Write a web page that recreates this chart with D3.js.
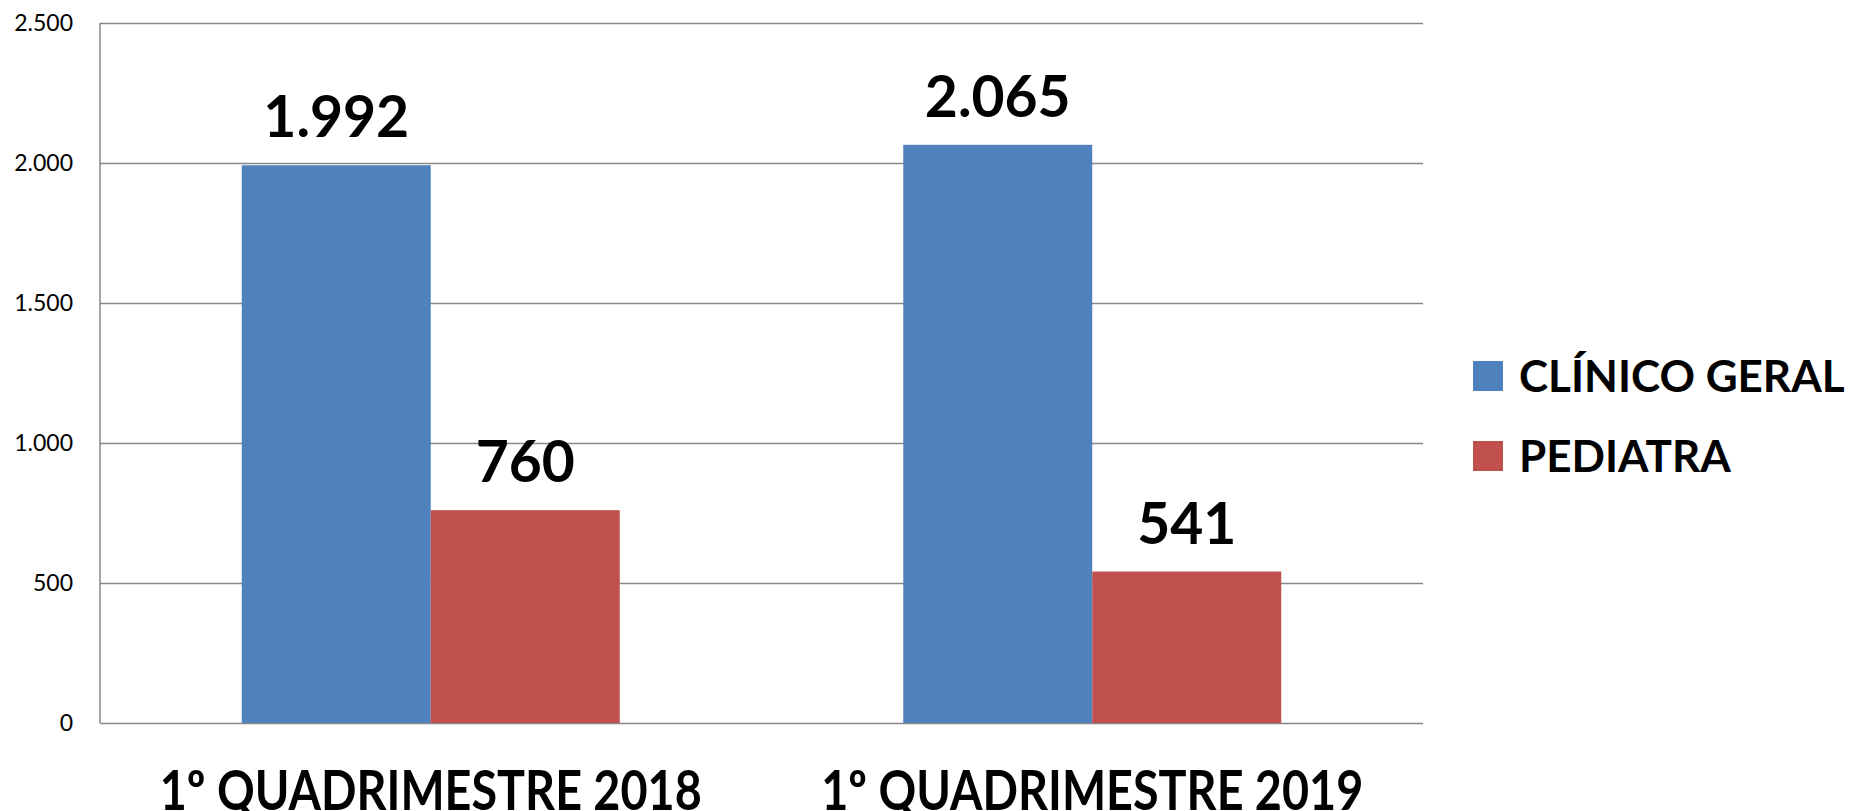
<!DOCTYPE html>
<html>
<head>
<meta charset="utf-8">
<script src="https://cdn.jsdelivr.net/npm/d3@7"></script>
<style>
  html, body { margin: 0; padding: 0; background: #fff; overflow: hidden; }
  svg { display: block; font-family: Lato, "Open Sans", sans-serif; }
</style>
</head>
<body>
<svg id="chart" width="1856" height="811"></svg>
<script>
// chart data
var categories = ["1º QUADRIMESTRE 2018", "1º QUADRIMESTRE 2019"];
var seriesNames = ["CLÍNICO GERAL", "PEDIATRA"];
var clinicoGeral = [1992, 2065];
var pediatra = [760, 541];
var yTicks = [0, 500, 1000, 1500, 2000, 2500];
var colors = ["#4F81BD", "#C0504D"];

(function () {
    var seriesValues = [clinicoGeral, pediatra];

    var svg = d3.select("#chart");
    var plotLeft = 100, plotRight = 1423, plotTop = 23, plotBottom = 723;

    var locale = d3.formatLocale({ decimal: ",", thousands: ".", grouping: [3], currency: ["", ""] });
    var fmt = locale.format(",d");

    var x = d3.scaleBand()
        .domain(categories)
        .range([plotLeft, plotRight])
        .paddingInner(0.4286)
        .paddingOuter(0.2143);

    var xs = d3.scaleBand()
        .domain(seriesNames)
        .range([0, x.bandwidth()])
        .padding(0);

    var y = d3.scaleLinear()
        .domain([0, 2500])
        .range([plotBottom, plotTop]);

    // gridlines + tick labels
    var yAxis = svg.append("g")
        .attr("transform", "translate(" + plotLeft + ",0)")
        .call(d3.axisLeft(y).tickValues(yTicks).tickSize(-(plotRight - plotLeft)).tickPadding(27).tickFormat(fmt));
    yAxis.select(".domain").remove();
    yAxis.selectAll(".tick line")
        .attr("stroke", "#888")
        .attr("stroke-width", 1.5);
    yAxis.selectAll(".tick text")
        .attr("fill", "#000")
        .style("font-size", "23px")
        .style("font-family", "Lato, sans-serif");

    // left axis line
    svg.append("line")
        .attr("x1", plotLeft).attr("x2", plotLeft)
        .attr("y1", y(2500)).attr("y2", y(0))
        .attr("stroke", "#888")
        .attr("stroke-width", 1.5);

    // bars
    var groups = svg.selectAll(".group")
        .data(categories)
      .enter().append("g")
        .attr("class", "group")
        .attr("transform", function (d) { return "translate(" + x(d) + ",0)"; });

    groups.selectAll("rect")
        .data(function (d, i) {
            return seriesNames.map(function (s, j) { return { s: s, v: seriesValues[j][i], c: colors[j] }; });
        })
      .enter().append("rect")
        .attr("x", function (d) { return xs(d.s); })
        .attr("width", xs.bandwidth())
        .attr("y", function (d) { return y(d.v); })
        .attr("height", function (d) { return y(0) - y(d.v); })
        .attr("fill", function (d) { return d.c; });

    groups.selectAll(".val")
        .data(function (d, i) {
            return seriesNames.map(function (s, j) { return { s: s, v: seriesValues[j][i] }; });
        })
      .enter().append("text")
        .attr("class", "val")
        .attr("x", function (d) { return xs(d.s) + xs.bandwidth() / 2; })
        .attr("y", function (d) { return y(d.v) - 28; })
        .attr("text-anchor", "middle")
        .style("font-size", "57px")
        .style("font-weight", "bold")
        .text(function (d) { return fmt(d.v); });

    // category labels (Calibri-like narrow width)
    svg.selectAll(".cat")
        .data(categories)
      .enter().append("text")
        .attr("class", "cat")
        .attr("x", function (d) { return x(d) + x.bandwidth() / 2; })
        .attr("y", 810)
        .attr("text-anchor", "middle")
        .attr("textLength", 542)
        .attr("lengthAdjust", "spacingAndGlyphs")
        .style("font-size", "55px")
        .style("font-weight", "bold")
        .text(function (d) { return d; });

    // legend
    var legend = svg.selectAll(".legend")
        .data(seriesNames)
      .enter().append("g")
        .attr("class", "legend")
        .attr("transform", function (d, i) { return "translate(1473," + (361 + i * 80) + ")"; });
    legend.append("rect")
        .attr("width", 30).attr("height", 30)
        .attr("fill", function (d, i) { return colors[i]; });
    legend.append("text")
        .attr("x", 46)
        .attr("y", 31)
        .style("font-size", "44px")
        .style("font-weight", "bold")
        .text(function (d) { return d; });
})();
</script>
</body>
</html>
